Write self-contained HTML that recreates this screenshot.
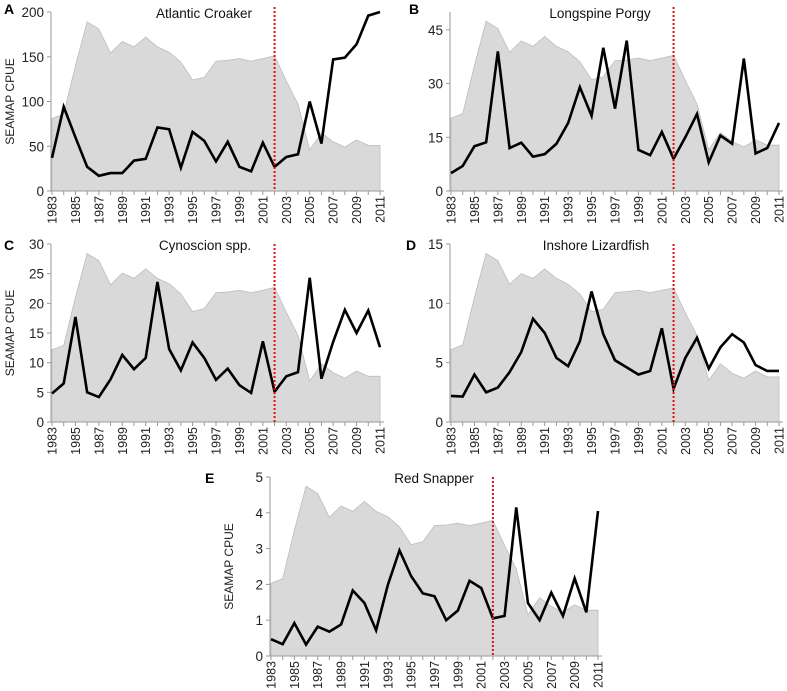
<!DOCTYPE html>
<html><head><meta charset="utf-8"><style>
body{margin:0;background:#fff;}
svg{display:block;font-family:"Liberation Sans",sans-serif;}
</style></head><body>
<svg id="fig" width="787" height="691" viewBox="0 0 787 691"></svg>
<script>
const years=[1983,1984,1985,1986,1987,1988,1989,1990,1991,1992,1993,1994,1995,1996,1997,1998,1999,2000,2001,2002,2003,2004,2005,2006,2007,2008,2009,2010,2011];
const yearTickLabels=["1983","1985","1987","1989","1991","1993","1995","1997","1999","2001","2003","2005","2007","2009","2011"];
const areaA=[81,86,140,189,181,154,167,161,172,161,155,144,124,127,145,146,148,145,148,151,123,97,46,65,55,49,57,51,51];
const lineA=[37,94,60,27,17,20,20,34,36,71,69,26,66,56,33,55,27,22,54,27,38,41,100,53,147,149,164,196,200];
const ticksA=[0,50,100,150,200];
const areaB=[20.3,21.6,35.1,47.4,45.4,38.7,41.9,40.4,43.2,40.4,38.9,36.1,31.1,31.9,36.4,36.6,37.1,36.4,37.1,37.9,30.9,24.3,11.5,16.3,13.8,12.3,14.3,12.8,12.8];
const lineB=[5,7,12.5,13.6,39,12,13.5,9.6,10.3,13.2,19,29,21,40,23,42,11.5,10,16.5,9,15,21.5,8,15.5,13.2,37,10.5,12,19];
const ticksB=[0,15,30,45];
const areaC=[12.2,12.9,21,28.4,27.2,23.1,25.1,24.2,25.8,24.2,23.3,21.6,18.6,19.1,21.8,21.9,22.2,21.8,22.2,22.7,18.5,14.6,6.9,9.8,8.3,7.4,8.6,7.7,7.7];
const lineC=[4.8,6.5,17.7,5,4.2,7.2,11.3,8.9,10.8,23.6,12.3,8.7,13.4,10.8,7.1,9,6.2,4.9,13.6,5.1,7.7,8.4,24.3,7.3,13.5,18.9,15,18.8,12.6];
const ticksC=[0,5,10,15,20,25,30];
const areaD=[6.1,6.5,10.5,14.2,13.6,11.6,12.5,12.1,12.9,12.1,11.6,10.8,9.3,9.5,10.9,11,11.1,10.9,11.1,11.3,9.2,7.3,3.5,4.9,4.1,3.7,4.3,3.8,3.8];
const lineD=[2.2,2.15,4,2.5,2.9,4.2,5.9,8.7,7.5,5.4,4.7,6.8,11,7.4,5.2,4.6,4,4.3,7.9,2.8,5.4,7.1,4.5,6.3,7.4,6.7,4.8,4.3,4.3];
const ticksD=[0,5,10,15];
const areaE=[2.03,2.16,3.51,4.74,4.54,3.87,4.19,4.04,4.32,4.04,3.89,3.61,3.11,3.19,3.64,3.66,3.71,3.64,3.71,3.79,3.09,2.43,1.15,1.63,1.38,1.23,1.43,1.28,1.28];
const lineE=[0.47,0.33,0.92,0.32,0.82,0.68,0.88,1.83,1.48,0.72,1.98,2.95,2.23,1.75,1.67,1.0,1.27,2.1,1.9,1.05,1.12,4.15,1.48,1.0,1.77,1.12,2.17,1.22,4.05];
const ticksE=[0,1,2,3,4,5];
const breakYear=2002;

const NS="http://www.w3.org/2000/svg";
const svg=document.getElementById('fig');
function mk(tag,attrs,parent,text){const e=document.createElementNS(NS,tag);for(const k in attrs)e.setAttribute(k,attrs[k]);if(text!==undefined)e.textContent=text;(parent||svg).appendChild(e);return e;}

const panels=[
 {id:'a',letter:'A',title:'Atlantic Croaker',x0:52,x1:380,y0:191,yTop:12,max:200,ticks:ticksA,area:areaA,line:lineA,ytitle:true,lx:4,ly:14,tx:204},
 {id:'b',letter:'B',title:'Longspine Porgy',x0:451,x1:779,y0:191,yTop:12,max:50,ticks:ticksB,area:areaB,line:lineB,ytitle:false,lx:409,ly:14,tx:600},
 {id:'c',letter:'C',title:'Cynoscion spp.',x0:52,x1:380,y0:422,yTop:244,max:30,ticks:ticksC,area:areaC,line:lineC,ytitle:true,lx:4,ly:250,tx:205},
 {id:'d',letter:'D',title:'Inshore Lizardfish',x0:451,x1:779,y0:422,yTop:244,max:15,ticks:ticksD,area:areaD,line:lineD,ytitle:false,lx:406,ly:250,tx:596},
 {id:'e',letter:'E',title:'Red Snapper',x0:271,x1:598,y0:656,yTop:477,max:5,ticks:ticksE,area:areaE,line:lineE,ytitle:true,lx:205,ly:483,tx:434}
];

panels.forEach(p=>{
 const g=mk('g',{});
 
 
 const xs=y=>p.x0+(y-years[0])*(p.x1-p.x0)/(years[years.length-1]-years[0]);
 const ys=v=>p.y0-v*(p.y0-p.yTop)/p.max;
 let d='M'+xs(years[0])+','+ys(0);
 years.forEach((yr,i)=>{d+=' L'+xs(yr)+','+ys(p.area[i]);});
 d+=' L'+xs(years[years.length-1])+','+ys(0)+' Z';
 const ar=mk('path',{d:d,fill:'#d9d9d9',stroke:'#bdbdbd','stroke-width':0.8},g);
 
 
 const ya=mk('line',{x1:p.x0-1,x2:p.x0-1,y1:p.yTop,y2:p.y0,stroke:'#999','stroke-width':1},g);
 
 
 const xa=mk('line',{x1:p.x0-1,x2:p.x1+4,y1:p.y0,y2:p.y0,stroke:'#999','stroke-width':1},g);
 
 
 p.ticks.forEach(t=>{
  mk('line',{x1:p.x0-5,x2:p.x0-1,y1:ys(t),y2:ys(t),stroke:'#999'},g);
  const tl=mk('text',{x:p.x0-8,y:ys(t)+5,'text-anchor':'end','font-size':13.5,fill:'#222'},g,String(t));
  
  
 });
 years.forEach(yr=>{mk('line',{x1:xs(yr),x2:xs(yr),y1:p.y0,y2:p.y0+4,stroke:'#999'},g);});
 yearTickLabels.forEach(s=>{
  const x=xs(+s);
  const tl=mk('text',{x:0,y:0,transform:'translate('+(x+4.5)+','+(p.y0+5)+') rotate(-90)','text-anchor':'end','font-size':12.5,fill:'#222'},g,s);
  
  
 });
 let ld='';
 years.forEach((yr,i)=>{ld+=(i?' L':'M')+xs(yr)+','+ys(p.line[i]);});
 const ln=mk('path',{d:ld,fill:'none',stroke:'#000','stroke-width':2.6,'stroke-linejoin':'miter'},g);
 
 
 const rl=mk('line',{x1:xs(breakYear),x2:xs(breakYear),y1:p.yTop+(p.id==='a'||p.id==='b'?-5:0),y2:p.y0,stroke:'#e01010','stroke-width':2,'stroke-dasharray':'2,2'},g);
 
 
 const tt=mk('text',{x:p.tx,y:p.yTop+6,'text-anchor':'middle','font-size':13.5,fill:'#111'},g,p.title);
 
 
 const lt=mk('text',{x:p.lx,y:p.ly,'font-size':14,'font-weight':'bold',fill:'#000'},g,p.letter);
 
 
 if(p.ytitle){
  const cy=(p.y0+p.yTop)/2;
  const yt=mk('text',{x:0,y:0,transform:'translate('+(p.x0-38)+','+cy+') rotate(-90)','text-anchor':'middle','font-size':12,fill:'#222'},g,'SEAMAP CPUE');
  
  
 }
});
</script>
</body></html>
